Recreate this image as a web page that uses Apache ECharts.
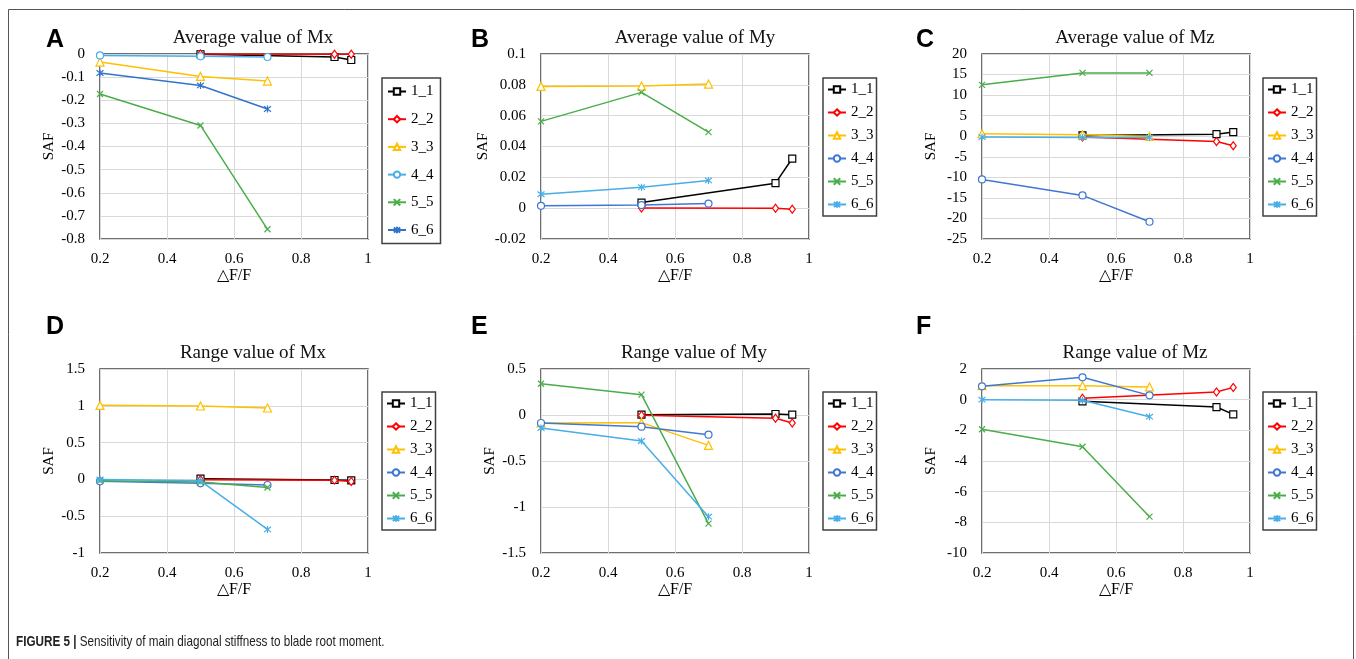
<!DOCTYPE html>
<html>
<head>
<meta charset="utf-8">
<script src="https://cdn.jsdelivr.net/npm/echarts@6/dist/echarts.min.js"></script>
<style>
html, body { margin: 0; padding: 0; background: #fff; }
#chart { width: 1356px; height: 659px; }
</style>
</head>
<body>
<div id="chart"></div>
<script>
const seriesNames = ["1_1", "2_2", "3_3", "4_4", "5_5", "6_6"]
const xLow = [0.2, 0.5, 0.7]    // 3_3 .. 6_6
const xHigh = [0.5, 0.9, 0.95]  // 1_1, 2_2

// values per panel, one row per series (1_1 .. 6_6)
const avgMx = [
  [-0.001, -0.013, -0.026], [0, -0.001, -0.001], [-0.035, -0.097, -0.117],
  [-0.006, -0.01, -0.013], [-0.173, -0.309, -0.758], [-0.082, -0.136, -0.238]
]
const avgMy = [
  [0.0036, 0.0162, 0.0322], [0.0001, -0.0001, -0.0007], [0.079, 0.0792, 0.0805],
  [0.0015, 0.002, 0.003], [0.0563, 0.0751, 0.0493], [0.009, 0.0136, 0.018]
]
const avgMz = [
  [0.2, 0.5, 1.0], [-0.2, -1.3, -2.3], [0.6, 0.35, -0.05],
  [-10.5, -14.4, -20.8], [12.5, 15.4, 15.4], [-0.2, -0.3, -0.3]
]
const rangeMx = [
  [0.01, -0.008, -0.013], [-0.004, -0.01, -0.03], [1.006, 0.997, 0.97],
  [-0.026, -0.053, -0.076], [-0.017, -0.035, -0.11], [0.0, -0.02, -0.68]
]
const rangeMy = [
  [0.004, 0.011, 0.004], [-0.004, -0.036, -0.087], [-0.087, -0.083, -0.33],
  [-0.087, -0.127, -0.214], [0.34, 0.221, -1.18], [-0.141, -0.283, -1.105]
]
const rangeMz = [
  [-0.11, -0.48, -0.96], [0.09, 0.5, 0.8], [0.91, 0.91, 0.83],
  [0.87, 1.46, 0.28], [-1.93, -3.07, -7.63], [0.0, -0.04, -1.11]
]

// y axis [min, max, interval]
const yAvgMx = [-0.8, 0, 0.1]
const yAvgMy = [-0.02, 0.1, 0.02]
const yAvgMz = [-25, 20, 5]
const yRangeMx = [-1, 1.5, 0.5]
const yRangeMy = [-1.5, 0.5, 0.5]
const yRangeMz = [-10, 2, 2]

const SERIF = "Liberation Serif"
const SANS = "Liberation Sans"

const baseColors = ["#000000", "#ff0000", "#ffc000", "#3f78d0", "#4aad4a", "#47aee8"]
const swapColors = ["#000000", "#ff0000", "#ffc000", "#47aee8", "#4aad4a", "#3274cc"]
const symbols = [
  "rect", "diamond", "triangle", "circle",
  "path://M0,0L10,10M10,0L0,10",
  "path://M0,0L10,10M10,0L0,10M5,-1.5L5,11.5"
]
const symbolSizes = [7, [6, 8], 8, 7, 6, 7]

const panels = [
  { key: "A", title: "Average value of Mx", values: avgMx, y: yAvgMx, colors: swapColors,
    grid: [100, 54, 268, 185], titleX: 248, titleY: 24, legend: [382, 78], big: true },
  { key: "B", title: "Average value of My", values: avgMy, y: yAvgMy, colors: baseColors,
    grid: [541, 54, 268, 185], titleX: 690, titleY: 24, legend: [823, 78] },
  { key: "C", title: "Average value of Mz", values: avgMz, y: yAvgMz, colors: baseColors,
    grid: [982, 54, 268, 185], titleX: 1130, titleY: 24, legend: [1263, 78] },
  { key: "D", title: "Range value of Mx", values: rangeMx, y: yRangeMx, colors: baseColors,
    grid: [100, 369, 268, 184], titleX: 248, titleY: 339, legend: [382, 392] },
  { key: "E", title: "Range value of My", values: rangeMy, y: yRangeMy, colors: baseColors,
    grid: [541, 369, 268, 184], titleX: 689, titleY: 339, legend: [823, 392] },
  { key: "F", title: "Range value of Mz", values: rangeMz, y: yRangeMz, colors: baseColors,
    grid: [982, 369, 268, 184], titleX: 1130, titleY: 339, legend: [1263, 392] }
]

const letterPos = [[46, 28], [471, 28], [916, 28], [46, 315], [471, 315], [916, 315]]

const tickFont = { fontFamily: SERIF, fontSize: 15, color: "#000" }

const option = {
  animation: false,
  title: panels.map(p => ({
    text: p.title, left: p.titleX, top: p.titleY, textAlign: "center",
    textStyle: { fontFamily: SERIF, fontSize: 19, fontWeight: "normal", color: "#111" }
  })),
  grid: panels.map(p => ({
    left: p.grid[0], top: p.grid[1], width: p.grid[2], height: p.grid[3],
    show: true, borderColor: "#404040", borderWidth: 1.5
  })),
  xAxis: panels.map((p, i) => ({
    type: "value", gridIndex: i, min: 0.2, max: 1, interval: 0.2,
    axisLine: { show: false }, axisTick: { show: false },
    splitLine: { show: true, lineStyle: { color: "#d9d9d9", width: 1 } },
    axisLabel: Object.assign({ margin: 13 }, tickFont),
    name: "△F/F", nameLocation: "middle", nameGap: 28,
    nameTextStyle: { fontFamily: SERIF, fontSize: 16, color: "#000" }
  })),
  yAxis: panels.map((p, i) => ({
    type: "value", gridIndex: i, min: p.y[0], max: p.y[1], interval: p.y[2],
    axisLine: { show: false }, axisTick: { show: false },
    splitLine: { show: true, lineStyle: { color: "#d9d9d9", width: 1 } },
    axisLabel: Object.assign({ margin: 15 }, tickFont),
    name: "SAF", nameLocation: "middle", nameGap: 43,
    nameTextStyle: { fontFamily: SERIF, fontSize: 15, color: "#000" }
  })),
  legend: panels.map(p => ({
    orient: "vertical",
    left: p.legend[0], top: p.legend[1],
    data: seriesNames.map(s => p.key + " " + s),
    formatter: n => n.slice(2),
    itemWidth: 18, itemHeight: 8,
    itemGap: p.big ? 12.7 : 8,
    padding: p.big ? [6, 7, 6, 5] : [4, 3, 4, 4],
    borderColor: "#404040", borderWidth: 1.5,
    textStyle: { fontFamily: SERIF, fontSize: 15, color: "#000" },
    selectedMode: false
  })),
  series: [],
  graphic: [
    {
      type: "polyline", silent: true,
      shape: { points: [[8.5, 659], [8.5, 9.5], [1353.5, 9.5], [1353.5, 659]] },
      style: { stroke: "#555", lineWidth: 1, fill: null }
    },
    {
      type: "text", x: 16, y: 634, scaleX: 0.78,
      style: {
        text: "{b|FIGURE 5 |} Sensitivity of main diagonal stiffness to blade root moment.",
        fontFamily: SANS, fontSize: 15, fill: "#222",
        rich: { b: { fontFamily: SANS, fontSize: 15, fontWeight: "bold", fill: "#222" } }
      }
    }
  ].concat(panels.map((p, i) => ({
    type: "text", x: letterPos[i][0], y: letterPos[i][1],
    style: { text: p.key, fontFamily: SANS, fontSize: 25, fontWeight: "bold", fill: "#000" }
  })))
}

panels.forEach((p, pi) => {
  p.values.forEach((vals, si) => {
    const xs = si < 2 ? xHigh : xLow
    const c = p.colors[si]
    option.series.push({
      type: "line",
      name: p.key + " " + seriesNames[si],
      xAxisIndex: pi, yAxisIndex: pi,
      data: xs.map((x, k) => [x, vals[k]]),
      symbol: symbols[si],
      symbolSize: symbolSizes[si],
      showAllSymbol: true,
      lineStyle: { color: c, width: 1.5 },
      itemStyle: { color: "#fff", borderColor: c, borderWidth: 1.2 },
      z: 2 + si
    })
  })
})

const chart = echarts.init(document.getElementById("chart"))
chart.setOption(option)
</script>
</body>
</html>
